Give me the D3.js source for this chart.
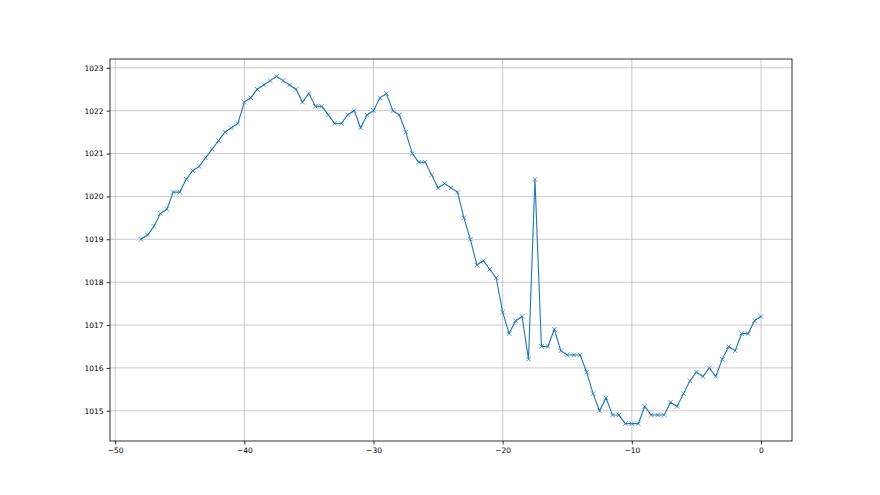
<!DOCTYPE html>
<html><head><meta charset="utf-8">
<script src="https://cdn.jsdelivr.net/npm/d3@7"></script>
<style>body{margin:0;background:#fff}svg{display:block}text{font-family:"DejaVu Sans",sans-serif}</style>
</head><body><svg id="c" width="880" height="495"></svg>
<script>
const xValues = d3.range(97).map(i => -48 + i * 0.5);
const pressure = [
1019.0,1019.1,1019.3,1019.6,1019.7,1020.1,1020.1,1020.4,1020.6,1020.7,
1020.9,1021.1,1021.3,1021.5,1021.6,1021.7,1022.2,1022.3,1022.5,1022.6,
1022.7,1022.8,1022.7,1022.6,1022.5,1022.2,1022.4,1022.1,1022.1,1021.9,
1021.7,1021.7,1021.9,1022.0,1021.6,1021.9,1022.0,1022.3,1022.4,1022.0,
1021.9,1021.5,1021.0,1020.8,1020.8,1020.5,1020.2,1020.3,1020.2,1020.1,
1019.5,1019.0,1018.4,1018.5,1018.3,1018.1,1017.3,1016.8,1017.1,1017.2,
1016.2,1020.4,1016.5,1016.5,1016.9,1016.4,1016.3,1016.3,1016.3,1015.9,
1015.4,1015.0,1015.3,1014.9,1014.9,1014.7,1014.7,1014.7,1015.1,1014.9,
1014.9,1014.9,1015.2,1015.1,1015.4,1015.7,1015.9,1015.8,1016.0,1015.8,
1016.2,1016.5,1016.4,1016.8,1016.8,1017.1,1017.2];
const xTicks = [-50,-40,-30,-20,-10,0];
const yTicks = [1015,1016,1017,1018,1019,1020,1021,1022,1023];

const data = xValues.map((x,i)=>({x, y: pressure[i]}));
const L=110, R=792, T=59, B=441;
const xExt = d3.extent(xValues), yExt = d3.extent(pressure);
const xm = (xExt[1]-xExt[0])*0.05, ym = (yExt[1]-yExt[0])*0.05;
const x = d3.scaleLinear().domain([xExt[0]-xm, xExt[1]+xm]).range([L,R]);
const y = d3.scaleLinear().domain([yExt[0]-ym, yExt[1]+ym]).range([B,T]);
const svg = d3.select("#c");

// grid
svg.append("g").selectAll("line").data(xTicks).join("line")
  .attr("x1",d=>x(d)).attr("x2",d=>x(d)).attr("y1",T).attr("y2",B)
  .attr("stroke","#b0b0b0").attr("stroke-width",0.8).attr("opacity",0.8);
svg.append("g").selectAll("line").data(yTicks).join("line")
  .attr("y1",d=>y(d)).attr("y2",d=>y(d)).attr("x1",L).attr("x2",R)
  .attr("stroke","#b0b0b0").attr("stroke-width",0.8).attr("opacity",0.8);

// line
svg.append("path").datum(data)
  .attr("d", d3.line().x(d=>x(d.x)).y(d=>y(d.y)))
  .attr("fill","none").attr("stroke","#1f77b4").attr("stroke-width",1.1);
// x markers
const s=2.3;
svg.append("g").selectAll("path").data(data).join("path")
  .attr("d", d=>`M${x(d.x)-s},${y(d.y)-s}L${x(d.x)+s},${y(d.y)+s}M${x(d.x)-s},${y(d.y)+s}L${x(d.x)+s},${y(d.y)-s}`)
  .attr("stroke","#1f77b4").attr("stroke-width",0.7).attr("fill","none");

// axes
const xa = svg.append("g").attr("transform",`translate(0,${B})`)
  .call(d3.axisBottom(x).tickValues(xTicks).tickSize(3.5).tickPadding(3).tickFormat(d=>d<0?"\u2212"+Math.abs(d):d));
const ya = svg.append("g").attr("transform",`translate(${L},0)`)
  .call(d3.axisLeft(y).tickValues(yTicks).tickSize(3.5).tickPadding(3).tickFormat(d3.format("d")));
[xa,ya].forEach(a=>{a.select(".domain").remove();a.selectAll("text").attr("font-size",7.5).attr("fill","#000").attr("font-family","DejaVu Sans");a.selectAll("line").attr("stroke","#000").attr("stroke-width",0.8);});

// spines
svg.append("rect").attr("x",L).attr("y",T).attr("width",R-L).attr("height",B-T)
  .attr("fill","none").attr("stroke","#000").attr("stroke-width",0.8);
</script></body></html>
